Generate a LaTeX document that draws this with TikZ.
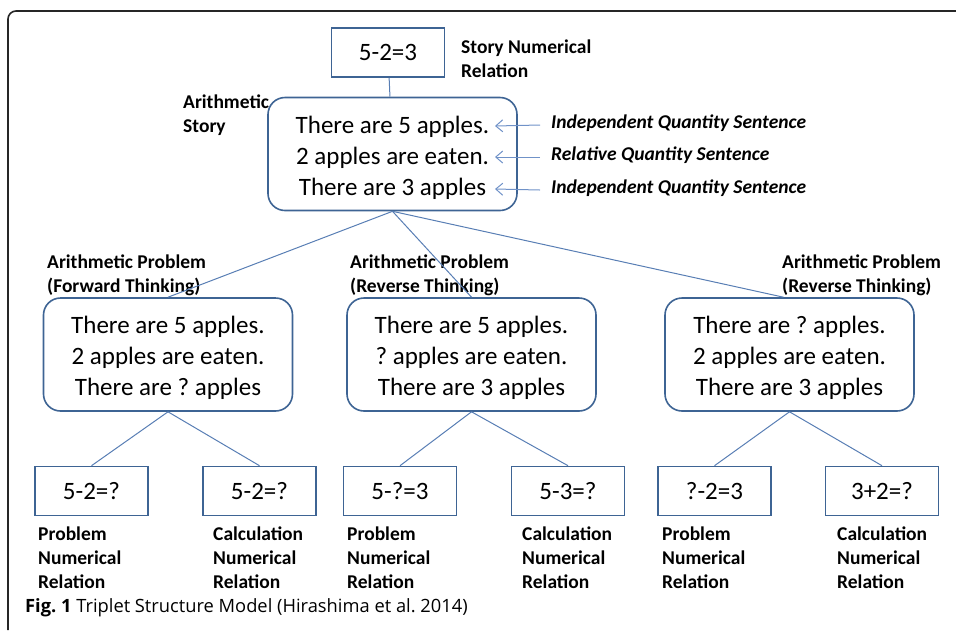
\documentclass[tikz,border=0pt]{standalone}
\usepackage{fontspec}
\setmainfont{Carlito}
\newfontfamily\capfont{Open Sans}
\usepackage{tikz}
\usetikzlibrary{arrows,arrows.meta,shapes,positioning}
\definecolor{boxblue}{RGB}{62,100,148}
\definecolor{lineblue}{RGB}{88,126,180}
\definecolor{arrowblue}{RGB}{112,146,200}
\frenchspacing
\newcommand{\tallline}{\rule{0pt}{25pt}}

\begin{document}
\begin{tikzpicture}[x=1pt,y=-1pt,>=stealth',auto]
  \tikzstyle{relation}=[rectangle,line width=1.6pt,draw=boxblue,minimum width=113pt,
  			minimum height=49pt,inner sep=0pt,font=\fontsize{25}{30}\selectfont]
  \tikzstyle{story}=[rectangle,rounded corners=17pt,line width=1.6pt,draw=boxblue,
  			minimum width=249pt,minimum height=113pt,inner sep=0pt,
  			align=center,font=\fontsize{25}{31}\selectfont]
  \tikzstyle{tag}=[anchor=north west,inner sep=0pt,align=left,
  			font=\bfseries\fontsize{19.5}{24}\selectfont]
  \tikzstyle{role}=[anchor=west,inner sep=0pt,font=\bfseries\itshape\fontsize{19.5}{24}\selectfont]
  \tikzstyle{link}=[draw=lineblue,line width=1pt]
  \tikzstyle{pointer}=[-{Straight Barb[length=7pt,width=12pt]},draw=arrowblue,line width=1pt]
  \useasboundingbox (0,0) rectangle (956,630);
  \draw[line width=1.6pt,rounded corners=8pt,black!85] (8,630) -- (8,11) -- (956,11);
  % story level
  \node [relation] (storyrel) at (388,52.5) {5-2=3};
  \node [story] (story) at (392.5,154) {\tallline There are 5 apples.\\2 apples are eaten.\\There are 3 apples};
  \node [tag] (storyreltag) at (461,40) {Story Numerical\\Relation};
  \node [tag] (storytag) at (183,95) {Arithmetic\\Story};
  \node [role] (q1) at (551,123) {Independent Quantity Sentence};
  \node [role] (q2) at (551,155) {Relative Quantity Sentence};
  \node [role] (q3) at (551,188) {Independent Quantity Sentence};
  \coordinate (s1) at (495,126);
  \coordinate (s2) at (495,157);
  \coordinate (s3) at (495,189);
  \draw [pointer] ([xshift=-11pt,yshift=-2pt]q1.west) -- (s1);
  \draw [pointer] ([xshift=-11pt,yshift=-2pt]q2.west) -- (s2);
  \draw [pointer] ([xshift=-11pt,yshift=-2pt]q3.west) -- (s3);
  \draw [link] (storyrel) -- (story);
  % problem level
  \node [story] (fwd) at (168,354.5) {\tallline There are 5 apples.\\2 apples are eaten.\\There are ? apples};
  \node [story] (revA) at (471.5,354.5) {\tallline There are 5 apples.\\? apples are eaten.\\There are 3 apples};
  \node [story] (revB) at (789.5,354.5) {\tallline There are ? apples.\\2 apples are eaten.\\There are 3 apples};
  \node [tag] (fwdtag) at (47,255) {Arithmetic Problem\\(Forward Thinking)};
  \node [tag] (revAtag) at (350,255) {Arithmetic Problem\\(Reverse Thinking)};
  \node [tag] (revBtag) at (782,255) {Arithmetic Problem\\(Reverse Thinking)};
  \draw [link] (story.south) -- (fwd.north);
  \draw [link] (story.south) -- (revA.north);
  \draw [link] (story.south) -- ([xshift=-6pt]revB.north);
  % numerical relations
  \node [relation] (pfwd) at (91.5,491) {5-2=?};
  \node [relation] (cfwd) at (259.5,491) {5-2=?};
  \node [relation] (prevA) at (400,491) {5-?=3};
  \node [relation] (crevA) at (568,491) {5-3=?};
  \node [relation] (prevB) at (714.5,491) {?-2=3};
  \node [relation] (crevB) at (882,491) {3+2=?};
  \foreach \p/\c/\n in {fwd/pfwd/cfwd,revA/prevA/crevA,revB/prevB/crevB}{
    \draw [link] (\p.south) -- (\c.north);
    \draw [link] (\p.south) -- (\n.north);
  }
  \node [tag] (pfwdtag) at (38,527) {Problem\\Numerical\\Relation};
  \node [tag] (cfwdtag) at (213,527) {Calculation\\Numerical\\Relation};
  \node [tag] (prevAtag) at (347,527) {Problem\\Numerical\\Relation};
  \node [tag] (crevAtag) at (522,527) {Calculation\\Numerical\\Relation};
  \node [tag] (prevBtag) at (662,527) {Problem\\Numerical\\Relation};
  \node [tag] (crevBtag) at (837,527) {Calculation\\Numerical\\Relation};
  % caption
  \node [anchor=west,inner sep=0pt,font=\capfont\fontsize{18.3}{22}\selectfont] (caption) at (25,608)
    {\textbf{Fig. 1} Triplet Structure Model (Hirashima et al. 2014)};
\end{tikzpicture}
\end{document}
